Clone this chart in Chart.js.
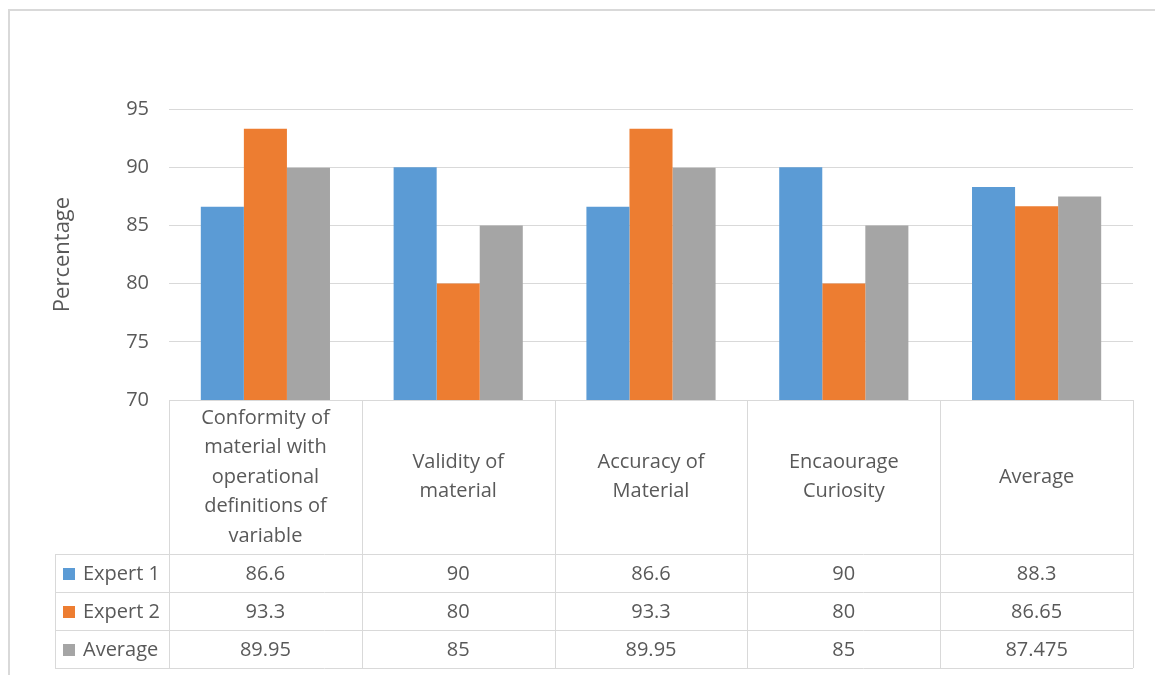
<!DOCTYPE html>
<html>
<head>
<meta charset="utf-8">
<script src="https://cdn.jsdelivr.net/npm/chart.js@4/dist/chart.umd.min.js"></script>
<style>
  html, body { margin: 0; padding: 0; background: #ffffff; }
  #wrap { width: 1155px; height: 675px; position: relative; }
</style>
</head>
<body>
<div id="wrap"><canvas id="c" width="1155" height="675"></canvas></div>
<script>
// Criteria shown in the header row of the data table
const categories = [
  ['Conformity of', 'material with', 'operational', 'definitions of', 'variable'],
  ['Validity of', 'material'],
  ['Accuracy of', 'Material'],
  ['Encaourage', 'Curiosity'],
  ['Average']
];
const seriesNames = ['Expert 1', 'Expert 2', 'Average'];
const expert1 = [86.6, 90, 86.6, 90, 88.3];
const expert2 = [93.3, 80, 93.3, 80, 86.65];
const average = [89.95, 85, 89.95, 85, 87.475];
const yTicks = [70, 75, 80, 85, 90, 95];

const colors = ['#5B9BD5', '#ED7D31', '#A5A5A5'];
const textColor = '#595959';
const lineColor = '#D9D9D9';
const fontFamily = '"Open Sans", "Noto Sans", sans-serif';
const fontSize = 20;

// Outer frame of the chart object
const framePlugin = {
  id: 'frame',
  beforeDraw(chart) {
    const ctx = chart.ctx;
    ctx.save();
    ctx.strokeStyle = lineColor;
    ctx.lineWidth = 2;
    ctx.beginPath();
    ctx.moveTo(9, 675);
    ctx.lineTo(9, 10);
    ctx.lineTo(1155, 10);
    ctx.stroke();
    ctx.restore();
  }
};

// Data table drawn under the plot area, aligned to the category scale
const tablePlugin = {
  id: 'dataTable',
  afterDraw(chart) {
    const ctx = chart.ctx;
    const area = chart.chartArea;
    const x = chart.scales.x;
    const n = categories.length;
    const colW = (area.right - area.left) / n;
    const headerTop = area.bottom;
    const headerBottom = 554;
    const rowH = 38;
    const legendLeft = 55;
    const rows = [expert1, expert2, average];

    ctx.save();
    ctx.strokeStyle = lineColor;
    ctx.lineWidth = 1;
    ctx.beginPath();
    // top of header row
    ctx.moveTo(area.left, headerTop + 0.5);
    ctx.lineTo(area.right, headerTop + 0.5);
    // row separators
    for (let r = 0; r <= rows.length; r++) {
      const y = Math.round(headerBottom + r * rowH) + 0.5;
      ctx.moveTo(legendLeft, y);
      ctx.lineTo(area.right, y);
    }
    // column separators
    const tableBottom = headerBottom + rows.length * rowH;
    for (let i = 0; i <= n; i++) {
      const cx = Math.round(area.left + i * colW) + 0.5;
      ctx.moveTo(cx, headerTop);
      ctx.lineTo(cx, tableBottom);
    }
    ctx.moveTo(legendLeft + 0.5, headerBottom);
    ctx.lineTo(legendLeft + 0.5, tableBottom);
    ctx.stroke();

    ctx.fillStyle = textColor;
    ctx.textAlign = 'center';
    ctx.textBaseline = 'middle';
    ctx.font = fontSize + 'px ' + fontFamily;

    // header labels
    const lh = 29.5;
    const midHeader = (headerTop + headerBottom) / 2;
    for (let i = 0; i < n; i++) {
      const cx = x.getPixelForValue(i);
      const lines = categories[i];
      const y0 = midHeader - (lines.length - 1) * lh / 2;
      lines.forEach((t, k) => ctx.fillText(t, cx, y0 + k * lh));
    }

    // value rows with legend keys
    rows.forEach((vals, r) => {
      const cy = headerBottom + r * rowH + rowH / 2 + 1;
      ctx.fillStyle = colors[r];
      ctx.fillRect(63, Math.round(cy - 6), 12, 12);
      ctx.fillStyle = textColor;
      ctx.textAlign = 'left';
      ctx.fillText(seriesNames[r], 83, cy);
      ctx.textAlign = 'center';
      vals.forEach((v, i) => ctx.fillText(String(v), x.getPixelForValue(i), cy));
    });
    ctx.restore();
  }
};

new Chart(document.getElementById('c'), {
  type: 'bar',
  data: {
    labels: categories,
    datasets: [
      { label: seriesNames[0], data: expert1, backgroundColor: colors[0] },
      { label: seriesNames[1], data: expert2, backgroundColor: colors[1] },
      { label: seriesNames[2], data: average, backgroundColor: colors[2] }
    ]
  },
  options: {
    responsive: false,
    animation: false,
    layout: { padding: { left: 9, right: 22, top: 109, bottom: 275 } },
    datasets: { bar: { categoryPercentage: 0.67, barPercentage: 1.0, borderWidth: 0 } },
    plugins: {
      legend: { display: false },
      tooltip: { enabled: false }
    },
    scales: {
      x: { display: false },
      y: {
        min: 70,
        max: 95,
        afterFit(scale) { scale.width = 160; },
        afterBuildTicks(scale) { scale.ticks = yTicks.map(v => ({ value: v })); },
        border: { display: false },
        grid: { color: lineColor, lineWidth: 1, drawTicks: false },
        ticks: {
          padding: 20,
          color: textColor,
          font: { family: fontFamily, size: 20 }
        },
        title: {
          display: true,
          text: 'Percentage',
          color: textColor,
          font: { family: fontFamily, size: 22 },
          padding: { top: 41, bottom: 0 }
        }
      }
    }
  },
  plugins: [framePlugin, tablePlugin]
});
</script>
</body>
</html>
